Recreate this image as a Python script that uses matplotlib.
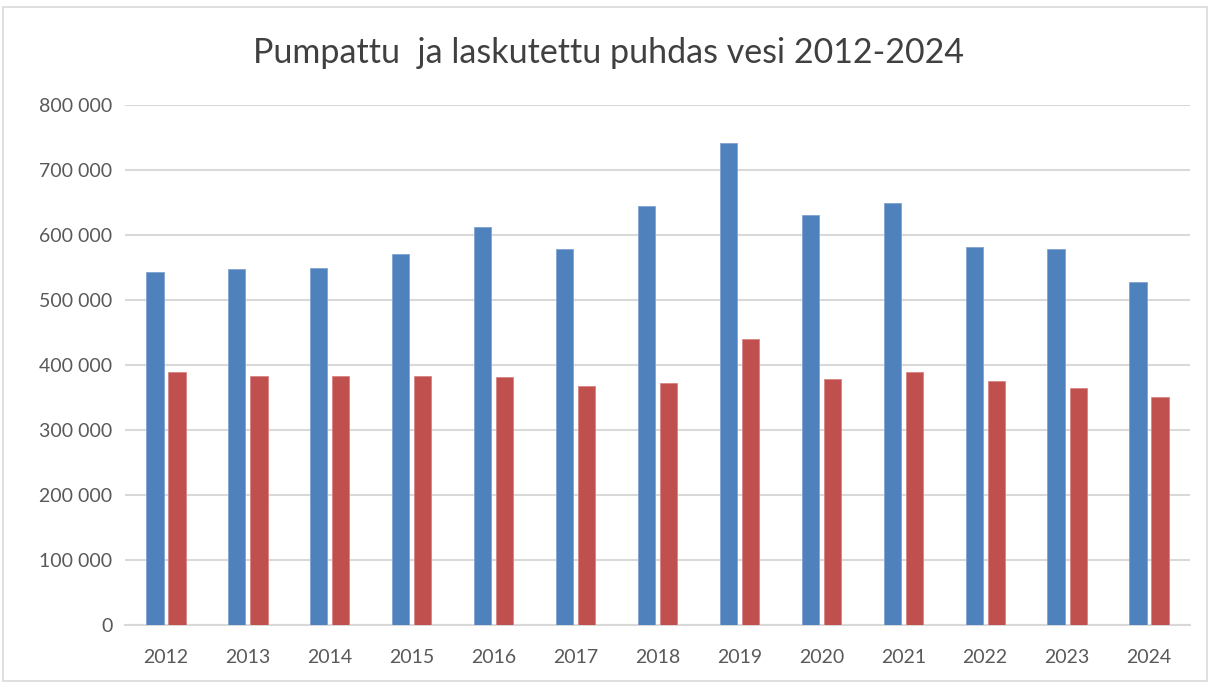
import matplotlib
matplotlib.use("Agg")
import matplotlib.pyplot as plt
import numpy as np
from matplotlib.patches import Rectangle
from matplotlib.ticker import FuncFormatter, MultipleLocator

years = ["2012", "2013", "2014", "2015", "2016", "2017", "2018",
         "2019", "2020", "2021", "2022", "2023", "2024"]
pumpattu = [543000, 547000, 549000, 571000, 612000, 579000, 645000,
            741000, 630000, 649000, 582000, 579000, 528000]
laskutettu = [390000, 383000, 383000, 383000, 382000, 368000, 372000,
              440000, 378000, 390000, 375000, 365000, 351000]
title = "Pumpattu  ja laskutettu puhdas vesi 2012-2024"

plt.rcParams['font.family'] = ['Lato', 'DejaVu Sans']

fig = plt.figure(figsize=(12.14, 6.84), dpi=100)
ax = fig.add_axes([125/1214, 1-625/684, (1190-125)/1214, (625-105)/684])

x = np.arange(len(years))
w = 0.21
off = 0.135
ax.bar(x - off, pumpattu, width=w, color="#4F81BD", edgecolor="#7FA3D0", linewidth=0.6, zorder=3)
ax.bar(x + off, laskutettu, width=w, color="#C0504D", edgecolor="#D98583", linewidth=0.6, zorder=3)

ax.set_xlim(-0.5, len(years) - 0.5)
ax.set_ylim(0, 800000)
ax.yaxis.set_major_locator(MultipleLocator(100000))
ax.yaxis.set_major_formatter(FuncFormatter(lambda v, p: f"{int(v):,}".replace(",", " ")))
ax.set_xticks(x)
ax.set_xticklabels(years)
ax.grid(axis="y", color="#D9D9D9", linewidth=1.5, zorder=0)
ax.set_axisbelow(True)
for s in ["top", "right", "left"]:
    ax.spines[s].set_visible(False)
ax.spines["bottom"].set_color("#D9D9D9")
ax.spines["bottom"].set_linewidth(1.5)
ax.tick_params(axis="both", length=0, labelsize=14, colors="#595959")
ax.tick_params(axis="y", pad=9)
ax.tick_params(axis="x", pad=17)

fig.text(0.5015, 1-53/684, title, ha="center", va="center", fontsize=24.5, color="#404040")

fig.patches.append(Rectangle((3/1214, 1-681/684), 1204/1214, 674/684,
                             transform=fig.transFigure, fill=False,
                             edgecolor="#D9D9D9", linewidth=1.2))

fig.savefig("out.png", dpi=100, facecolor="white")
